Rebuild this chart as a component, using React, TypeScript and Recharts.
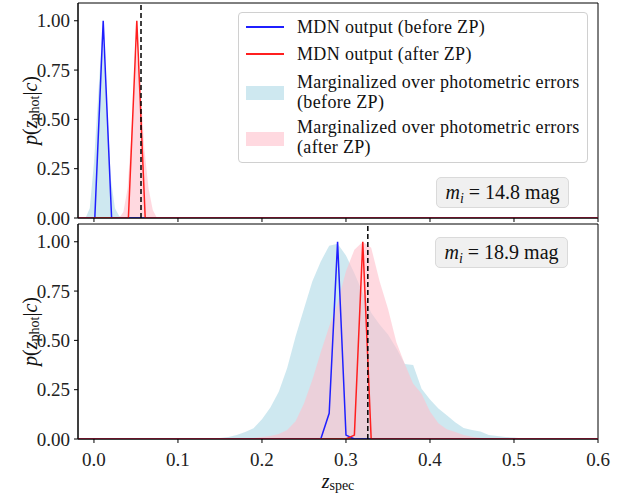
import React from "react";
import {
  ComposedChart,
  Area,
  Line,
  XAxis,
  YAxis,
  ReferenceLine,
  ReferenceArea,
  Legend,
} from "recharts";

const FONT = '"Liberation Serif", "DejaVu Serif", serif';

// top panel (m_i = 14.8)
const topLineBefore: [number, number][] = [[-0.019, 0], [0.001, 0], [0.011, 1.0], [0.021, 0], [0.6, 0]];
const topLineAfter: [number, number][] = [[-0.019, 0], [0.041, 0], [0.051, 1.0], [0.061, 0], [0.6, 0]];
const topFillBefore: [number, number][] = [
  [-0.01, 0], [-0.005, 0.05], [0, 0.28], [0.005, 0.62], [0.01, 0.95], [0.015, 0.62],
  [0.02, 0.2], [0.025, 0.05], [0.03, 0.01], [0.035, 0],
];
const topFillAfter: [number, number][] = [
  [0.03, 0], [0.035, 0.03], [0.04, 0.15], [0.045, 0.45], [0.05, 0.85], [0.055, 0.7],
  [0.06, 0.35], [0.065, 0.15], [0.07, 0.04], [0.075, 0],
];
const topZSpec = 0.056;

// bottom panel (m_i = 18.9)
const botLineBefore: [number, number][] = [
  [-0.019, 0], [0.27, 0], [0.28, 0.13], [0.29, 1.0], [0.3, 0.02], [0.31, 0], [0.6, 0],
];
const botLineAfter: [number, number][] = [
  [-0.019, 0], [0.3, 0], [0.31, 0.02], [0.32, 1.0], [0.33, 0], [0.6, 0],
];
const botFillBefore: [number, number][] = [
  [0.14, 0], [0.15, 0.005], [0.16, 0.01], [0.17, 0.02], [0.18, 0.035], [0.19, 0.055],
  [0.2, 0.1], [0.21, 0.16], [0.22, 0.24], [0.23, 0.36], [0.24, 0.52], [0.25, 0.66],
  [0.26, 0.8], [0.27, 0.9], [0.28, 0.98], [0.29, 0.99], [0.3, 0.93], [0.31, 0.84],
  [0.32, 0.74], [0.33, 0.64], [0.34, 0.58], [0.35, 0.53], [0.36, 0.46], [0.37, 0.38],
  [0.38, 0.375], [0.39, 0.255], [0.4, 0.2], [0.41, 0.155], [0.42, 0.12], [0.43, 0.085],
  [0.44, 0.056], [0.45, 0.045], [0.46, 0.038], [0.47, 0.02], [0.48, 0.015], [0.49, 0.01],
  [0.5, 0.008], [0.51, 0.003], [0.52, 0],
];
const botFillAfter: [number, number][] = [
  [0.18, 0], [0.19, 0.005], [0.2, 0.01], [0.21, 0.015], [0.22, 0.025], [0.23, 0.045],
  [0.24, 0.09], [0.25, 0.18], [0.26, 0.3], [0.27, 0.44], [0.28, 0.57], [0.29, 0.69],
  [0.3, 0.85], [0.31, 0.96], [0.32, 1.0], [0.33, 0.97], [0.34, 0.8], [0.35, 0.66],
  [0.36, 0.49], [0.37, 0.38], [0.38, 0.28], [0.39, 0.23], [0.4, 0.14], [0.41, 0.08],
  [0.42, 0.05], [0.43, 0.035], [0.44, 0.02], [0.45, 0.012], [0.46, 0.005], [0.47, 0],
];
const botZSpec = 0.326;

const xTicks = [0, 0.1, 0.2, 0.3, 0.4, 0.5, 0.6];
const yTicks = [0, 0.25, 0.5, 0.75, 1.0];
const legendLines = [
  "MDN output (before ZP)",
  "MDN output (after ZP)",
  "Marginalized over photometric errors",
  "(before ZP)",
  "Marginalized over photometric errors",
  "(after ZP)",
];
const magLabels = ["14.8", "18.9"];

const BLUE = "#1f1fff";
const RED = "#ff1f1f";
const X_DOMAIN: [number, number] = [-0.019, 0.6];
const Y_DOMAIN: [number, number] = [0, 1.09];

type Row = { z: number; [k: string]: number };

function merge(series: Record<string, [number, number][]>): Row[] {
  const map = new Map<string, Row>();
  Object.entries(series).forEach(([name, pts]) => {
    pts.forEach(([z, p]) => {
      const key = z.toFixed(4);
      if (!map.has(key)) map.set(key, { z });
      map.get(key)![name] = p;
    });
  });
  return Array.from(map.values()).sort((a, b) => a.z - b.z);
}

const topRows = merge({
  fillBefore: topFillBefore,
  fillAfter: topFillAfter,
  lineBefore: topLineBefore,
  lineAfter: topLineAfter,
});
const botRows = merge({
  fillBefore: botFillBefore,
  fillAfter: botFillAfter,
  lineBefore: botLineBefore,
  lineAfter: botLineAfter,
});

const tickStyle = { fontSize: 19, fontFamily: FONT, fill: "#222", style: { fontFamily: FONT } };

const YLabel = (props: any) => {
  const vb = props.viewBox || { x: 0, y: 0, height: 0 };
  const cx = vb.x + 30;
  const cy = vb.y + vb.height / 2;
  return (
    <text
      x={cx}
      y={cy}
      transform={`rotate(-90 ${cx} ${cy})`}
      textAnchor="middle"
      dominantBaseline="central"
      fontSize={20}
      style={{ fontFamily: FONT }}
      fill="#111"
    >
      <tspan fontStyle="italic">p</tspan>
      <tspan>(</tspan>
      <tspan fontStyle="italic">z</tspan>
      <tspan fontSize={14} dy={4}>phot</tspan>
      <tspan dy={-4}>|</tspan>
      <tspan fontStyle="italic">c</tspan>
      <tspan>)</tspan>
    </text>
  );
};

const XLabel = (props: any) => {
  const vb = props.viewBox || { x: 0, y: 0, width: 0 };
  const cx = vb.x + vb.width / 2;
  const cy = vb.y + 42;
  return (
    <text x={cx} y={cy} textAnchor="middle" dominantBaseline="central" fontSize={20} style={{ fontFamily: FONT }} fill="#111">
      <tspan fontStyle="italic">z</tspan>
      <tspan fontSize={14} dy={4}>spec</tspan>
    </text>
  );
};

// top offsets (px, inside the legend box) of each text line
const legendTextTops = [4, 31, 58.5, 78.5, 103.5, 123.5];

const LegendBox = () => (
  <div
    style={{
      position: "relative",
      width: 350,
      height: 151,
      boxSizing: "border-box",
      border: "1px solid #d0d0d0",
      borderRadius: 4,
      background: "rgba(255,255,255,0.85)",
      fontFamily: FONT,
      fontSize: 18,
      letterSpacing: 0.35,
      lineHeight: "20px",
      color: "#111",
    }}
  >
    <div style={{ position: "absolute", left: 7, top: 13, width: 38, height: 2, background: BLUE }} />
    <div style={{ position: "absolute", left: 7, top: 40, width: 38, height: 2, background: RED }} />
    <div style={{ position: "absolute", left: 7, top: 73, width: 38, height: 14, background: "rgba(173,216,230,0.6)" }} />
    <div style={{ position: "absolute", left: 7, top: 119, width: 38, height: 14, background: "rgba(255,192,203,0.6)" }} />
    {legendLines.map((txt, i) => (
      <div key={i} style={{ position: "absolute", left: 58, top: legendTextTops[i], height: 20, whiteSpace: "nowrap" }}>
        {txt}
      </div>
    ))}
  </div>
);

const MagBox = ({ value, left, top }: { value: string; left: number; top: number }) => (
  <div
    style={{
      position: "absolute",
      left,
      top,
      width: 133,
      height: 31,
      boxSizing: "border-box",
      border: "1px solid #dadada",
      borderRadius: 5,
      background: "rgba(238,238,238,0.9)",
      fontFamily: FONT,
      fontSize: 20,
      lineHeight: "29px",
      textAlign: "center",
      color: "#111",
      whiteSpace: "nowrap",
    }}
  >
    <i>m</i>
    <sub style={{ fontSize: 14, fontStyle: "italic", verticalAlign: "-4px" }}>i</sub> = {value} mag
  </div>
);

const Panel = ({
  rows,
  zSpec,
  height,
  bottom,
  children,
}: {
  rows: Row[];
  zSpec: number;
  height: number;
  bottom: boolean;
  children?: React.ReactNode;
}) => (
  <ComposedChart
    width={626}
    height={height}
    data={rows}
    margin={{ top: 3, right: 28, left: 0, bottom: 0 }}
    style={{ fontFamily: FONT }}
  >
    <XAxis
      dataKey="z"
      type="number"
      domain={X_DOMAIN}
      ticks={xTicks}
      allowDataOverflow
      interval={0}
      height={height - 3 - 215}
      stroke="#000"
      tickSize={4}
      tickMargin={10}
      tick={bottom ? tickStyle : () => <g />}
      tickFormatter={(v: number) => v.toFixed(1)}
      label={bottom ? <XLabel /> : undefined}
    />
    <YAxis
      type="number"
      domain={Y_DOMAIN}
      ticks={yTicks}
      allowDataOverflow
      width={78}
      stroke="#000"
      tickSize={4}
      tickMargin={4}
      tick={tickStyle}
      tickFormatter={(v: number) => v.toFixed(2)}
      label={<YLabel />}
    />
    <Area
      dataKey="fillBefore"
      type="linear"
      fill="lightblue"
      fillOpacity={0.6}
      stroke="none"
      connectNulls
      isAnimationActive={false}
    />
    <Area
      dataKey="fillAfter"
      type="linear"
      fill="pink"
      fillOpacity={0.6}
      stroke="none"
      connectNulls
      isAnimationActive={false}
    />
    <Line
      dataKey="lineBefore"
      type="linear"
      stroke={BLUE}
      strokeWidth={1.5}
      dot={false}
      connectNulls
      isAnimationActive={false}
    />
    <Line
      dataKey="lineAfter"
      type="linear"
      stroke={RED}
      strokeWidth={1.5}
      dot={false}
      connectNulls
      isAnimationActive={false}
    />
    <ReferenceLine x={zSpec} stroke="#000" strokeWidth={1.5} strokeDasharray="5 3" />
    <ReferenceArea
      x1={X_DOMAIN[0]}
      x2={X_DOMAIN[1]}
      y1={Y_DOMAIN[0]}
      y2={Y_DOMAIN[1]}
      fill="none"
      fillOpacity={0}
      stroke="#000"
      strokeWidth={1}
      strokeOpacity={1}
    />
    {children}
  </ComposedChart>
);

export default function App() {
  return (
    <div style={{ position: "absolute", left: 0, top: 0, width: 626, height: 496, background: "#fff", fontFamily: FONT }}>
      <div style={{ position: "absolute", left: 0, top: 0 }}>
        <Panel rows={topRows} zSpec={topZSpec} height={230} bottom={false}>
          <Legend
            layout="horizontal"
            verticalAlign="middle"
            align="center"
            content={() => <LegendBox />}
            wrapperStyle={{ left: 238, top: 12, width: 350, height: 151 }}
          />
        </Panel>
      </div>
      <div style={{ position: "absolute", left: 0, top: 221 }}>
        <Panel rows={botRows} zSpec={botZSpec} height={275} bottom />
      </div>
      <MagBox value={magLabels[0]} left={436} top={177} />
      <MagBox value={magLabels[1]} left={435} top={237} />
    </div>
  );
}
